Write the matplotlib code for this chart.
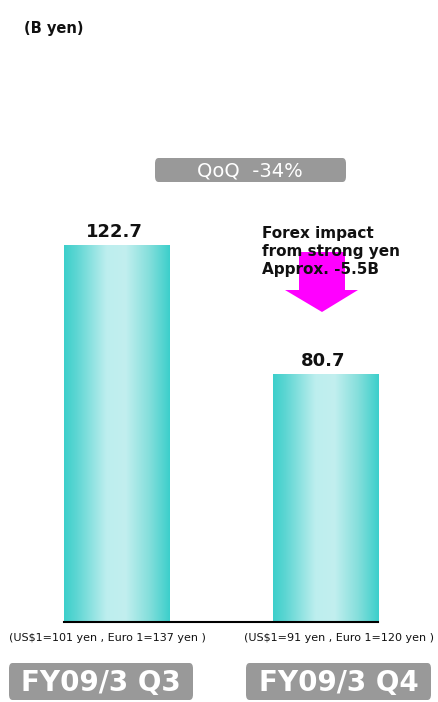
import matplotlib
matplotlib.use("Agg")
import matplotlib.pyplot as plt
import numpy as np
from matplotlib.colors import LinearSegmentedColormap
from matplotlib.patches import FancyBboxPatch, Polygon

# ---- data ----
categories = ["FY09/3 Q3", "FY09/3 Q4"]
values = [122.7, 80.7]
value_labels = ["122.7", "80.7"]
rate_notes = ["(US$1=101 yen , Euro 1=137 yen )", "(US$1=91 yen , Euro 1=120 yen )"]
unit_label = "(B yen)"
qoq_label = "QoQ  -34%"
forex_label = "Forex impact\nfrom strong yen\nApprox. -5.5B"

W, H = 438, 702
fig = plt.figure(figsize=(W / 100, H / 100), dpi=100)
fig.patch.set_facecolor("white")

def fx(x):
    return x / W

def fy(y):
    return 1 - y / H

base_px = 622
ax = fig.add_axes([0, fy(base_px), 1, base_px / H])
ax.axis("off")

xs = np.arange(len(values))
width = 0.508
cmap = LinearSegmentedColormap.from_list(
    "bar",
    [(0.0, "#3ccfcb"), (0.12, "#5ed6d3"), (0.4, "#bdeeee"), (0.58, "#c2efef"),
     (0.8, "#86dfdc"), (1.0, "#3ccfcb")])
grad = np.linspace(0, 1, 256).reshape(1, -1)
bars = ax.bar(xs, values, width=width, color="none", edgecolor="none")
for b in bars:
    x0, y0 = b.get_x(), b.get_y()
    im = ax.imshow(grad, cmap=cmap, aspect="auto",
                   extent=[x0, x0 + b.get_width(), y0, y0 + b.get_height()],
                   zorder=1)
    im.set_clip_path(b)
ax.set_xlim(-117 / 208.5, (W - 117) / 208.5)
ax.set_ylim(0, base_px / 3.07)

# baseline
ax.plot([xs[0] - width / 2, xs[-1] + width / 2], [0, 0], color="black", lw=1.5,
        zorder=3, clip_on=False)

# value labels
for x, v, t in zip(xs, values, value_labels):
    ax.annotate(t, (x, v), xytext=(-2, 3), textcoords="offset points",
                ha="center", va="bottom", fontsize=13, fontweight="bold",
                color="#111111")

# unit label
fig.text(fx(24), fy(28), unit_label, fontsize=10.5, fontweight="bold",
         ha="left", va="center", color="#111111")

# rounded boxes
def rbox(x0, y0, x1, y1, color):
    p = FancyBboxPatch((fx(x0), fy(y1)), fx(x1) - fx(x0), fy(y0) - fy(y1),
                       boxstyle="round,pad=0,rounding_size=0.008",
                       transform=fig.transFigure, facecolor=color,
                       edgecolor="none", zorder=5)
    fig.patches.append(p)

rbox(155, 158, 346, 182, "#999999")
fig.text(fx(250), fy(171), qoq_label, fontsize=14, color="white",
         ha="center", va="center", zorder=6)

# magenta arrow
arrow_pts = [(299, 252), (345, 252), (345, 290), (358, 290), (322, 312),
             (285, 290), (299, 290)]
fig.patches.append(Polygon([(fx(x), fy(y)) for x, y in arrow_pts],
                           closed=True, transform=fig.transFigure,
                           facecolor="#ff00ff", edgecolor="none", zorder=4))
fig.text(fx(262), fy(226), forex_label, fontsize=11, fontweight="bold",
         ha="left", va="top", color="#111111", linespacing=1.27, zorder=7)

# exchange rate notes and category boxes
note_x = [107, 339.5]
box_x = [(9, 193), (246, 431)]
for i in range(len(categories)):
    fig.text(fx(note_x[i]), fy(638), rate_notes[i], fontsize=8,
             ha="center", va="center", color="#111111")
    x0, x1 = box_x[i]
    rbox(x0, 663, x1, 700, "#999999")
    fig.text(fx((x0 + x1) / 2), fy(683), categories[i], fontsize=20,
             fontweight="bold", color="white", ha="center", va="center",
             zorder=6)

fig.savefig("out.png", dpi=100)
